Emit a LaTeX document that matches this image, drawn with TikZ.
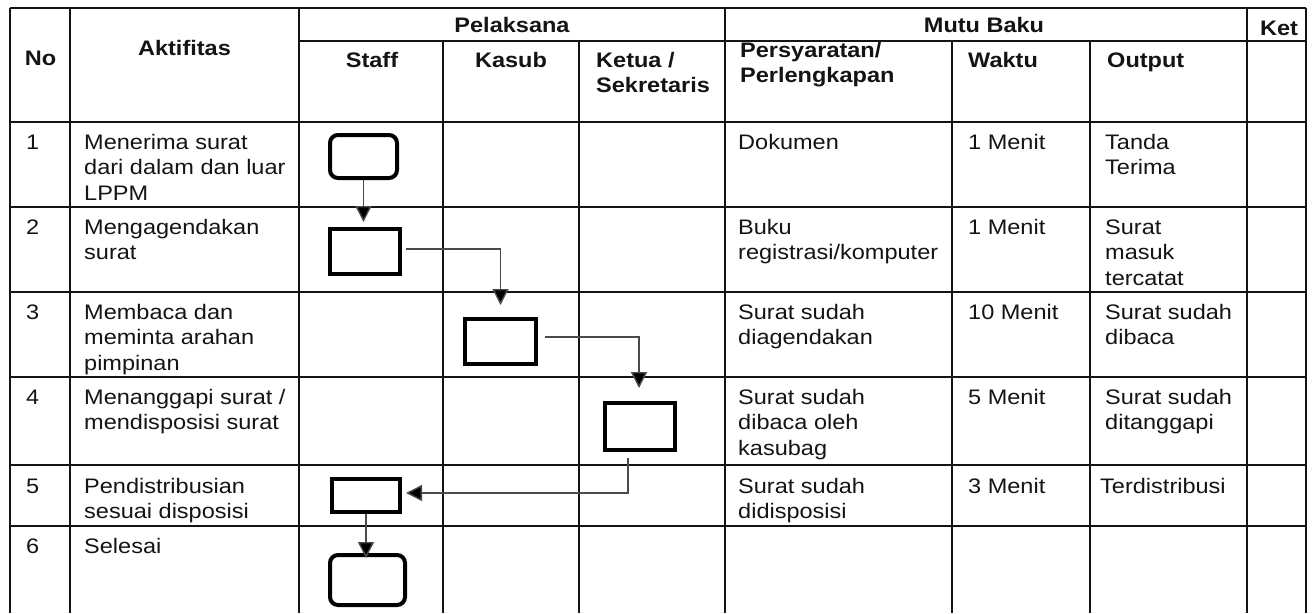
\documentclass[tikz,border=0pt]{standalone}
\usepackage{fontspec}
\setmainfont{Liberation Sans}[FakeStretch=1.12]
\usetikzlibrary{arrows.meta}
\definecolor{ink}{HTML}{141414}
\definecolor{conn}{HTML}{4A4A4A}
\begin{document}
\begin{tikzpicture}[x=1pt,y=-1pt,
  grid/.style={draw=ink,line width=1.4pt},
  cell/.style={anchor=north west,inner sep=0pt,align=left,yshift=17.85pt,text=ink,
    font=\fontsize{21}{25.5}\selectfont},
  hcell/.style={anchor=base,inner sep=0pt,text=ink,font=\fontsize{21}{25.5}\selectfont\bfseries},
  hleft/.style={cell,font=\fontsize{21}{25.5}\selectfont\bfseries},
  procbox/.style={draw=black,line width=4pt,rectangle,inner sep=0pt,fill=white},
  termbox/.style={procbox,rounded corners=8pt},
  flow/.style={draw=conn,line width=1.4pt,-{Triangle[length=16pt,width=16pt,fill=black]}}]
\useasboundingbox (0,0) rectangle (1314,613);
\fill[white] (0,0) rectangle (1314,613);
% horizontal rules
\draw[grid] (10,8) -- (1306,8);
\draw[grid] (299,41) -- (1306,41);
\foreach \yy in {122,207,292,377,465,526}{\draw[grid] (10,\yy) -- (1306,\yy);}
% vertical rules
\foreach \xx in {10,70,299,725,1247,1306}{\draw[grid] (\xx,8) -- (\xx,613);}
\foreach \xx in {443,579,952,1090}{\draw[grid] (\xx,41) -- (\xx,613);}
% header
\node[hcell] (hNo) at (40.5,65) {No};
\node[hcell] (hAkt) at (184.5,55) {Aktifitas};
\node[hcell] (hPel) at (512,32) {Pelaksana};
\node[hcell] (hMutu) at (984,32) {Mutu Baku};
\node[hcell] (hKet) at (1279,35) {Ket};
\node[hcell] (hStaff) at (372,67) {Staff};
\node[hcell] (hKasub) at (511,67) {Kasub};
\node[hleft] (hKetua) at (596,67) {\strut Ketua /\\Sekretaris};
\node[hleft] (hPers) at (740,57) {\strut Persyaratan/\\Perlengkapan};
\node[hleft] (hWaktu) at (968,67) {\strut Waktu};
\node[hleft] (hOut) at (1107,67) {\strut Output};
% row 1
\node[cell] (n1) at (26,149) {\strut 1};
\node[cell] (a1) at (84,149) {\strut Menerima surat\\dari dalam dan luar\\LPPM};
\node[cell] (p1) at (738,149) {\strut Dokumen};
\node[cell] (w1) at (968,149) {\strut 1 Menit};
\node[cell] (o1) at (1105,149) {\strut Tanda\\Terima};
% row 2
\node[cell] (n2) at (26,234) {\strut 2};
\node[cell] (a2) at (84,234) {\strut Mengagendakan\\surat};
\node[cell] (p2) at (738,234) {\strut Buku\\registrasi/komputer};
\node[cell] (w2) at (968,234) {\strut 1 Menit};
\node[cell] (o2) at (1105,234) {\strut Surat\\masuk\\tercatat};
% row 3
\node[cell] (n3) at (26,319) {\strut 3};
\node[cell] (a3) at (84,319) {\strut Membaca dan\\meminta arahan\\pimpinan};
\node[cell] (p3) at (738,319) {\strut Surat sudah\\diagendakan};
\node[cell] (w3) at (968,319) {\strut 10 Menit};
\node[cell] (o3) at (1105,319) {\strut Surat sudah\\dibaca};
% row 4
\node[cell] (n4) at (26,404) {\strut 4};
\node[cell] (a4) at (84,404) {\strut Menanggapi surat /\\mendisposisi surat};
\node[cell] (p4) at (738,404) {\strut Surat sudah\\dibaca oleh\\kasubag};
\node[cell] (w4) at (968,404) {\strut 5 Menit};
\node[cell] (o4) at (1105,404) {\strut Surat sudah\\ditanggapi};
% row 5
\node[cell] (n5) at (26,493) {\strut 5};
\node[cell] (a5) at (84,493) {\strut Pendistribusian\\sesuai disposisi};
\node[cell] (p5) at (738,493) {\strut Surat sudah\\didisposisi};
\node[cell] (w5) at (968,493) {\strut 3 Menit};
\node[cell] (o5) at (1100,493) {\strut Terdistribusi};
% row 6
\node[cell] (n6) at (26,553) {\strut 6};
\node[cell] (a6) at (84,553) {\strut Selesai};
% flow shapes
\node[termbox,minimum width=67pt,minimum height=43pt] (b1) at (363.5,156.5) {};
\node[procbox,minimum width=70pt,minimum height=45pt] (b2) at (365,251.5) {};
\node[procbox,minimum width=71pt,minimum height=45pt] (b3) at (500.5,341.5) {};
\node[procbox,minimum width=70pt,minimum height=47pt] (b4) at (640,426.5) {};
\node[procbox,minimum width=68pt,minimum height=33pt] (b5) at (366,495.5) {};
\node[termbox,minimum width=75pt,minimum height=50pt] (b6) at (367.5,580) {};
% connectors
\draw[flow] (b1.south) -- ([yshift=5pt]b1.south |- b2.north);
\draw[flow] ([shift={(4pt,2.5pt)}]b2.east) -| ([yshift=12pt]b3.north);
\draw[flow] ([shift={(7pt,4.5pt)}]b3.east) -| ([shift={(-1pt,13pt)}]b4.north);
\draw[flow] ([shift={(-12pt,-6pt)}]b4.south) |- ([shift={(4pt,2.5pt)}]b5.east);
\draw[flow] (b5.south) -- ([yshift=-5pt]b5.south |- b6.north);
\end{tikzpicture}
\end{document}
